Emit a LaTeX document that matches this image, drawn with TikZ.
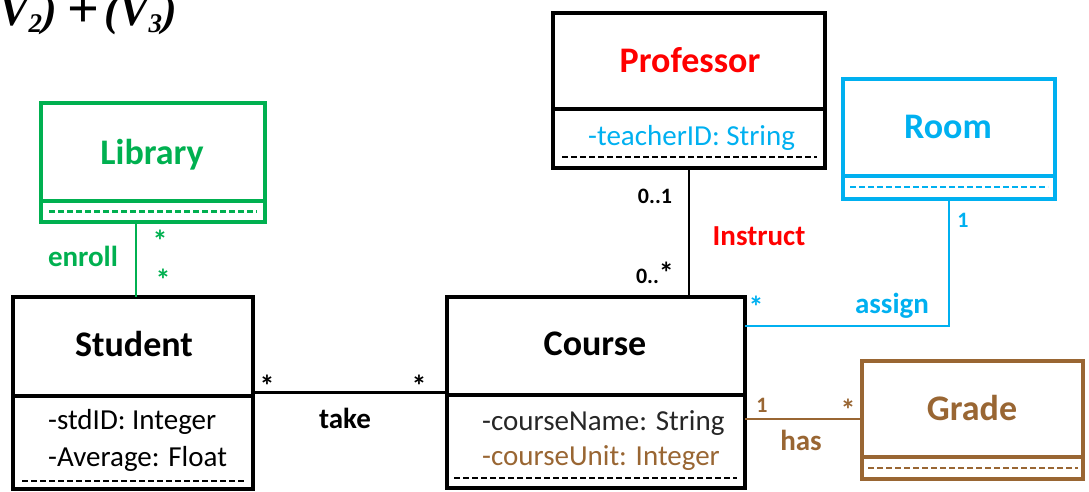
\documentclass[tikz,border=0pt]{standalone}
\usepackage{fontspec}
\setmainfont{Carlito}
\newfontfamily\titlefont{Liberation Serif}
\usetikzlibrary{calc}
\definecolor{umlgreen}{RGB}{0,176,80}
\definecolor{umlcyan}{RGB}{0,176,240}
\definecolor{umlred}{RGB}{255,0,0}
\definecolor{umlbrown}{RGB}{153,102,51}
% subscript of the formula fragment
\newcommand\fragsub[1]{\raisebox{-7pt}{\fontsize{27}{28}\selectfont #1}}
% larger asterisk used in multiplicities
\newcommand\mstar{{\fontsize{30}{30}\selectfont *}}
\begin{document}
\begin{tikzpicture}[x=1pt,y=-1pt,
  classframe/.style={draw, rectangle, line width=3.2pt, inner sep=0pt, outer sep=0pt},
  sepline/.style={line width=3.2pt},
  dashline/.style={line width=2.6pt, dash pattern=on 6pt off 3pt},
  link/.style={line width=2.6pt},
  classname/.style={font=\fontsize{36}{40}\selectfont\bfseries, inner sep=0pt, anchor=base},
  attr/.style={font=\fontsize{29}{34}\selectfont, inner sep=0pt, anchor=base west},
  assoc/.style={font=\fontsize{29}{34}\selectfont\bfseries, inner sep=0pt, anchor=base},
  mult/.style={font=\fontsize{22}{26}\selectfont\bfseries, inner sep=0pt, anchor=base},
  star/.style={font=\fontsize{30}{30}\selectfont\bfseries, inner sep=0pt, anchor=base}]
\useasboundingbox (0,0) rectangle (1089,491);
\clip (0,0) rectangle (1089,491);

% formula fragment at the top left, running past the edge
\node[font=\titlefont\fontsize{44}{46}\selectfont\bfseries\itshape, anchor=base east, inner sep=0pt] (eq) at (177,25)
  {(V\fragsub{2})\hspace{11pt}\raisebox{-2pt}{\fontsize{56}{56}\selectfont\textup{+}}\hspace{5pt}(V\fragsub{3})};

% ---------- class boxes ----------
% Library
\node[classframe, draw=umlgreen, minimum width=224pt, minimum height=119pt] (lib) at (153,162.5) {};
\draw[sepline, umlgreen] (lib.west |- 0,201) -- (lib.east |- 0,201);
\draw[dashline, umlgreen] ($(lib.west |- 0,211.5)+(8,0)$) -- ($(lib.east |- 0,211.5)+(-8,0)$);
\node[classname, text=umlgreen] (libname) at (152,164) {Library};

% Student
\node[classframe, minimum width=240pt, minimum height=192pt] (stu) at (133,393) {};
\draw[sepline] (stu.west |- 0,396) -- (stu.east |- 0,396);
\draw[dashline] ($(stu.west |- 0,481)+(9,0)$) -- ($(stu.east |- 0,481)+(-8,0)$);
\node[classname] (stuname) at (134,356) {Student};
\node[attr] (stu1) at (48,429.5) {-stdID: Integer};
\node[attr] (stu2) at (48,466) {-Average: Float};

% Course
\node[classframe, minimum width=298pt, minimum height=191pt] (crs) at (596,392.5) {};
\draw[sepline] (crs.west |- 0,395) -- (crs.east |- 0,395);
\draw[dashline] ($(crs.west |- 0,478)+(7,0)$) -- ($(crs.east |- 0,478)+(-8,0)$);
\node[classname] (crsname) at (595,355) {Course};
\node[attr, text=black!85] (crs1) at (482,430) {-courseName: String};
\node[attr, text=umlbrown] (crs2) at (482,465.5) {-courseUnit: Integer};

% Professor
\node[classframe, minimum width=272pt, minimum height=155pt] (prof) at (689,90.5) {};
\draw[sepline] (prof.west |- 0,109) -- (prof.east |- 0,109);
\draw[dashline] ($(prof.west |- 0,157)+(9,0)$) -- ($(prof.east |- 0,157)+(-8,0)$);
\node[classname, text=umlred] (profname) at (690,72) {Professor};
\node[attr, text=umlcyan] (prof1) at (588,145) {-teacherID: String};

% Room
\node[classframe, draw=umlcyan, minimum width=212pt, minimum height=120pt] (room) at (949,139) {};
\draw[sepline, umlcyan] (room.west |- 0,176) -- (room.east |- 0,176);
\draw[dashline, umlcyan] ($(room.west |- 0,187)+(7,0)$) -- ($(room.east |- 0,187)+(-7,0)$);
\node[classname, text=umlcyan] (roomname) at (948,138) {Room};

% Grade
\node[classframe, draw=umlbrown, minimum width=221pt, minimum height=118pt] (grade) at (972.5,420) {};
\draw[sepline, umlbrown] (grade.west |- 0,457) -- (grade.east |- 0,457);
\draw[dashline, umlbrown] ($(grade.west |- 0,468)+(6,0)$) -- ($(grade.east |- 0,468)+(-5,0)$);
\node[classname, text=umlbrown] (gradename) at (972,420) {Grade};

% ---------- associations ----------
% enroll
\draw[link, umlgreen] ($(lib.south west)!0.424!(lib.south east)$) coordinate (e1) -- (e1 |- stu.north);
\node[assoc, text=umlgreen] (enroll) at (83,266) {enroll};
\node[star, text=umlgreen] (enm1) at (160,251) {*};
\node[star, text=umlgreen] (enm2) at (163,290) {*};

% take
\draw[link] ($(stu.north east)!0.497!(stu.south east)$) coordinate (t1) -- (t1 -| crs.west);
\node[star] (tkm1) at (267,396) {*};
\node[star] (tkm2) at (419,396) {*};
\node[assoc] (take) at (345,428) {take};

% Instruct
\draw[link] (prof.south) -- (prof.south |- crs.north);
\node[mult] (inm1) at (655,203) {0..1};
\node[assoc, text=umlred] (instruct) at (759,245) {Instruct};
\node[mult] (inm2) at (655,283) {0..\mstar};

% assign
\draw[link, umlcyan] ($(crs.north east)!0.152!(crs.south east)$) coordinate (a1) -| (room.south);
\node[mult, text=umlcyan] (asm1) at (963,227) {1};
\node[star, text=umlcyan] (asm2) at (756,317) {*};
\node[assoc, text=umlcyan] (assign) at (892,313) {assign};

% has
\draw[link, umlbrown] ($(crs.north east)!0.639!(crs.south east)$) coordinate (h1) -- (h1 -| grade.west);
\node[mult, text=umlbrown] (hsm1) at (762,412) {1};
\node[star, text=umlbrown] (hsm2) at (848,420) {*};
\node[assoc, text=umlbrown] (has) at (801,450) {has};
\end{tikzpicture}
\end{document}
